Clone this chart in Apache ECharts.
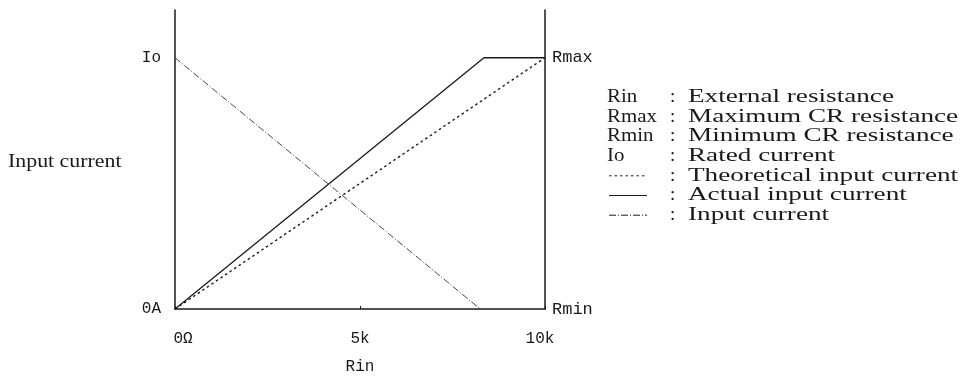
<!DOCTYPE html>
<html>
<head>
<meta charset="utf-8">
<script src="https://cdn.jsdelivr.net/npm/echarts@6/dist/echarts.min.js"></script>
<style>
html,body{margin:0;padding:0;background:#fff;}
#c{width:973px;height:380px;}
</style>
</head>
<body>
<div id="c"></div>
<script>
// ---- data ----
var xTickLabels = {0: '0\u03a9', 5000: '5k', 10000: '10k'};
var leftTickLabels = {0: '0A', 1: 'Io'};
var rightTickLabels = {0: 'Rmin', 1: 'Rmax'};
var theoreticalX = [0, 10000];
var theoreticalY = [0, 1];
var actualX = [0, 8350, 10000];
var actualY = [0, 1, 1];
var inputX = [0, 8250];
var inputY = [1, 0];
var yAxisTitle = 'Input current';
var legendKeys = ['Rin', 'Rmax', 'Rmin', 'Io', '', '', ''];
var legendTexts = ['External resistance', 'Maximum CR resistance', 'Minimum CR resistance', 'Rated current', 'Theoretical input current', 'Actual input current', 'Input current'];
var legendLineTypes = [null, null, null, null, 'dotted', 'solid', 'dashdot'];

function pairs(xs, ys){ return xs.map(function(x,i){ return [x, ys[i]]; }); }

var INK = '#1a1a1a';
var MONO = '"Liberation Mono", "DejaVu Sans Mono", monospace';
var SERIF = '"Liberation Serif", "DejaVu Serif", serif';

var lineDash = {
  dotted: [2.5, 3],
  solid: null,
  dashdot: [7, 2, 1, 2]
};

var graphics = [];
var lx = 607, cx = 670, tx = 688, ly0 = 97, dy = 19.7;
var FS = 19, SX = 1.43;
legendTexts.forEach(function(t, i){
  var y = ly0 + i*dy;
  if (legendKeys[i]) {
    graphics.push({type:'text', x: lx, y: y, scaleX: 1.1,
      style:{text: legendKeys[i], font: FS + 'px ' + SERIF, fill: INK, verticalAlign:'middle', textVerticalAlign:'middle'}});
  } else {
    var lt = legendLineTypes[i];
    graphics.push({type:'line', shape:{x1: lx+2, y1: y, x2: lx+40, y2: y},
      style:{stroke: INK, lineWidth: lt==='solid'?1.2:1, lineDash: lineDash[lt]}});
  }
  graphics.push({type:'text', x: cx, y: y,
    style:{text: ':', font: FS + 'px ' + SERIF, fill: INK, verticalAlign:'middle', textVerticalAlign:'middle'}});
  graphics.push({type:'text', x: tx, y: y, scaleX: SX,
    style:{text: t, font: FS + 'px ' + SERIF, fill: INK, verticalAlign:'middle', textVerticalAlign:'middle'}});
});
// y axis title
graphics.push({type:'text', x: 8, y: 162, scaleX: 1.15,
  style:{text: yAxisTitle, font: '19px ' + SERIF, fill: INK, verticalAlign:'middle', textVerticalAlign:'middle'}});

var chart = echarts.init(document.getElementById('c'), null, {renderer:'canvas'});
var yBase = {
  type:'value', min:0, max:1.19, interval:1,
  splitLine:{show:false},
  axisTick:{show:false},
  axisLine:{show:true, lineStyle:{color: INK, width: 1.5}}
};
chart.setOption({
  animation:false,
  backgroundColor:'#fff',
  grid:{left:175, right:428, top:10, bottom:70},
  xAxis:{
    type:'value', min:0, max:10000, interval:5000,
    name:'Rin', nameLocation:'middle', nameGap:50,
    nameTextStyle:{color: INK, fontFamily: MONO, fontSize:16},
    axisLine:{lineStyle:{color: INK, width:1.5}},
    axisTick:{show:true, inside:true, length:3, lineStyle:{color: INK}},
    splitLine:{show:false},
    axisLabel:{margin:22, color: INK, fontFamily: MONO, fontSize:16,
      formatter:function(v){
        if (v === 0) return '{l|' + xTickLabels[v] + '}';
        if (v === 10000) return '{r|' + xTickLabels[v] + '}';
        return xTickLabels[v] !== undefined ? xTickLabels[v] : '';
      },
      rich:{
        l:{padding:[0,0,0,16], fontFamily: MONO, fontSize:16, color: INK},
        r:{padding:[0,10,0,0], fontFamily: MONO, fontSize:16, color: INK}
      },
      showMaxLabel:true, showMinLabel:true}
  },
  yAxis:[
    Object.assign({}, yBase, {
      position:'left',
      axisLabel:{margin:14, color: INK, showMaxLabel:false,
        formatter:function(v){ return leftTickLabels[v] || ''; },
        fontFamily: MONO, fontSize:16}
    }),
    Object.assign({}, yBase, {
      position:'right',
      axisLabel:{margin:7, color: INK, showMaxLabel:false,
        formatter:function(v){ return rightTickLabels[v] || ''; },
        fontFamily: MONO, fontSize:17}
    })
  ],
  series:[
    {name:'Theoretical input current', type:'line', data: pairs(theoreticalX, theoreticalY), symbol:'none',
      lineStyle:{color: INK, width:1.4, type: lineDash.dotted}},
    {name:'Actual input current', type:'line', data: pairs(actualX, actualY), symbol:'none',
      lineStyle:{color: INK, width:1.3, type:'solid'}},
    {name:'Input current', type:'line', data: pairs(inputX, inputY), symbol:'none',
      lineStyle:{color: '#333', width:0.9, type: lineDash.dashdot}}
  ],
  graphic: graphics
});
</script>
</body>
</html>
